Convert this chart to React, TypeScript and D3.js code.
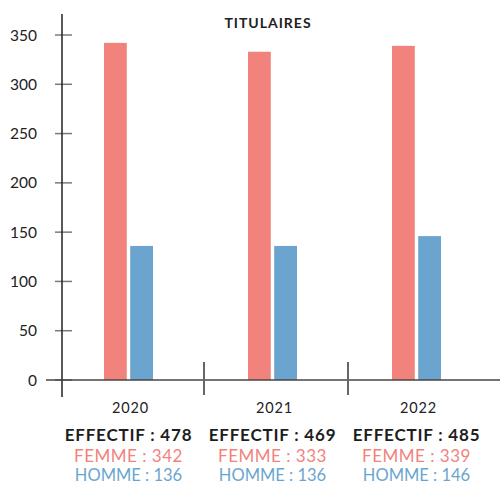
import React from "react";
import * as d3 from "d3";

const years = ["2020", "2021", "2022"];
const femmes = [342, 333, 339];
const hommes = [136, 136, 146];
const yTicks = [0, 50, 100, 150, 200, 250, 300, 350];
const title = "TITULAIRES";

const W = 500;
const H = 486;
const FEMME = "#F2827C";
const HOMME = "#6BA5CF";
const FONT = "Lato, 'Open Sans', sans-serif";

export default function App() {
  const y = d3.scaleLinear().domain([0, 350]).range([380, 35]);
  const x = d3.scaleBand<string>().domain(years).range([60, 492]).padding(0);
  const sub = d3
    .scaleBand<string>()
    .domain(["femme", "homme"])
    .range([0, 49])
    .paddingInner(0.13);
  const axisX = 62;
  const base = y(0);
  const groupShift = -3.5;

  return (
    <svg
      width={W}
      height={H}
      style={{ position: "absolute", left: 0, top: 0, background: "#fff" }}
    >
      <text
        x={268}
        y={28}
        textAnchor="middle"
        fontFamily={FONT}
        fontWeight={700}
        fontSize={14}
        letterSpacing={1}
        fill="#222"
      >
        {title}
      </text>

      {/* value ticks */}
      {yTicks.map((t) => (
        <g key={t}>
          <line
            x1={55}
            x2={72}
            y1={y(t)}
            y2={y(t)}
            stroke="#7a7a7a"
            strokeWidth={1.5}
          />
          <text
            x={37}
            y={y(t) + 5.5}
            textAnchor="end"
            fontFamily={FONT}
            fontSize={15.5}
            fill="#222"
          >
            {t}
          </text>
        </g>
      ))}

      {/* bars */}
      {years.map((yr, i) => {
        const cx = (x(yr) as number) + x.bandwidth() / 2 + groupShift;
        const left = cx - 24.5;
        return (
          <g key={yr}>
            <rect
              x={left + (sub("femme") as number)}
              y={y(femmes[i])}
              width={sub.bandwidth()}
              height={base - y(femmes[i])}
              fill={FEMME}
            />
            <rect
              x={left + (sub("homme") as number)}
              y={y(hommes[i])}
              width={sub.bandwidth()}
              height={base - y(hommes[i])}
              fill={HOMME}
            />
          </g>
        );
      })}

      {/* axes */}
      <line x1={axisX} x2={axisX} y1={14} y2={397} stroke="#222" strokeWidth={1.5} />
      <line x1={46} x2={500} y1={base} y2={base} stroke="#444" strokeWidth={1.5} />
      {years.slice(1).map((yr) => (
        <line
          key={yr}
          x1={x(yr) as number}
          x2={x(yr) as number}
          y1={362}
          y2={395}
          stroke="#666"
          strokeWidth={2}
        />
      ))}

      {/* category labels and totals */}
      {years.map((yr, i) => {
        const cx = (x(yr) as number) + x.bandwidth() / 2 + groupShift;
        return (
          <g key={yr} fontFamily={FONT} textAnchor="middle">
            <text x={cx + 2} y={413} fontSize={14.5} letterSpacing={0.8} fill="#222">
              {yr}
            </text>
            <text
              x={cx}
              y={441}
              fontSize={17}
              fontWeight={700}
              letterSpacing={0.8}
              fill="#1e1e1e"
            >
              {`EFFECTIF : ${femmes[i] + hommes[i]}`}
            </text>
            <text x={cx} y={462} fontSize={17} letterSpacing={0.5} fill={FEMME}>
              {`FEMME : ${femmes[i]}`}
            </text>
            <text x={cx} y={481} fontSize={16.5} fill={HOMME}>
              {`HOMME : ${hommes[i]}`}
            </text>
          </g>
        );
      })}
    </svg>
  );
}
